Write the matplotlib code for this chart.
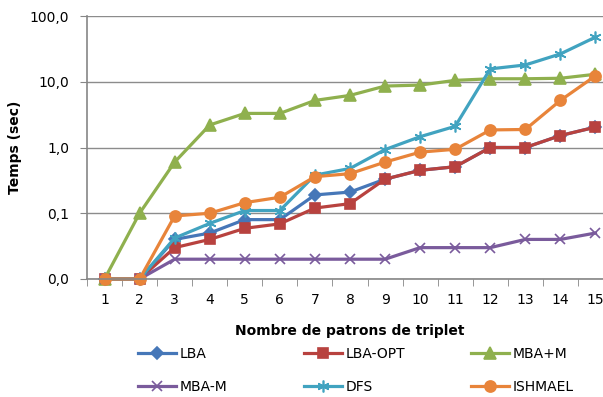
import matplotlib
matplotlib.use('Agg')
import matplotlib.pyplot as plt
from matplotlib.ticker import FixedLocator, FuncFormatter, NullFormatter

# Données (temps en secondes, échelle log)
patrons = list(range(1, 16))
lba = [0.01, 0.01, 0.04, 0.05, 0.08, 0.08, 0.19, 0.21, 0.33, 0.45, 0.51, 1.0, 1.0, 1.52, 2.04]
lba_opt = [0.01, 0.01, 0.03, 0.04, 0.059, 0.069, 0.12, 0.14, 0.33, 0.45, 0.51, 1.0, 1.0, 1.52, 2.04]
mba_plus = [0.01, 0.1, 0.6, 2.2, 3.3, 3.3, 5.2, 6.2, 8.6, 8.9, 10.5, 11.1, 11.1, 11.3, 13.0]
mba_moins = [0.01, 0.01, 0.02, 0.02, 0.02, 0.02, 0.02, 0.02, 0.02, 0.03, 0.03, 0.03, 0.04, 0.04, 0.05]
dfs = [0.01, 0.01, 0.042, 0.07, 0.11, 0.11, 0.38, 0.48, 0.93, 1.46, 2.1, 15.7, 18.0, 26.5, 47.7]
ishmael = [0.01, 0.01, 0.091, 0.1, 0.145, 0.175, 0.36, 0.4, 0.6, 0.85, 0.94, 1.85, 1.88, 5.2, 12.3]

y_ticks = [0.01, 0.1, 1, 10, 100]

series = [
    ('LBA', lba, '#4677B8', 'D', 6),
    ('LBA-OPT', lba_opt, '#B8423F', 's', 7.5),
    ('MBA+M', mba_plus, '#8FB04E', '^', 8),
    ('MBA-M', mba_moins, '#7A5B9C', 'x', 7.5),
    ('DFS', dfs, '#41A3C0', (6, 2, 0), 8.5),
    ('ISHMAEL', ishmael, '#E8843A', 'o', 8),
]

fig = plt.figure(figsize=(6.03, 3.97), dpi=100)
ax = fig.add_axes([87 / 603, 118 / 397, 526 / 603, 263 / 397])

handles = {}
for nom, vals, couleur, marqueur, taille in series:
    ligne, = ax.plot(patrons, vals, color=couleur, linewidth=2.3, marker=marqueur,
                     markersize=taille, markerfacecolor=couleur, markeredgecolor=couleur,
                     markeredgewidth=1.2, label=nom, clip_on=False)
    handles[nom] = ligne

ax.set_yscale('log')
ax.set_ylim(0.01, 100)
ax.set_xlim(0.5, 15.5)

ax.yaxis.set_major_locator(FixedLocator(y_ticks))
ax.yaxis.set_minor_formatter(NullFormatter())
ax.yaxis.set_minor_locator(FixedLocator([]))
ax.yaxis.set_major_formatter(FuncFormatter(lambda v, p: f'{v:.1f}'.replace('.', ',')))

ax.set_xticks(patrons)
ax.set_xticks([i + 0.5 for i in range(0, 15)], minor=True)
ax.tick_params(axis='x', which='major', length=0, pad=10, labelsize=10)
ax.tick_params(axis='x', which='minor', length=5, color='#868686', direction='out')
ax.tick_params(axis='y', which='major', length=5, color='#868686', labelsize=10, pad=8)

ax.grid(True, axis='y', color='#8c8c8c', linewidth=1)
ax.set_axisbelow(True)
for s in ['top', 'right']:
    ax.spines[s].set_visible(False)
for s in ['left', 'bottom']:
    ax.spines[s].set_color('#868686')
    ax.spines[s].set_linewidth(1.2)

ax.set_ylabel('Temps (sec)', fontsize=10, fontweight='bold', labelpad=5)
ax.set_xlabel('Nombre de patrons de triplet', fontsize=10, fontweight='bold', labelpad=12)

# Légende : trois colonnes placées séparément
colonnes = [(['LBA', 'MBA-M'], 138), (['LBA-OPT', 'DFS'], 304), (['MBA+M', 'ISHMAEL'], 471)]
for noms, x0 in colonnes:
    leg = fig.legend([handles[n] for n in noms], noms, frameon=False,
                     loc='upper left', bbox_to_anchor=(x0 / 603, 1 - 347 / 397),
                     fontsize=10, handlelength=2.7, handletextpad=0.3,
                     labelspacing=1.35, borderpad=0, borderaxespad=0)

fig.savefig('out.png', dpi=100, facecolor='white')
